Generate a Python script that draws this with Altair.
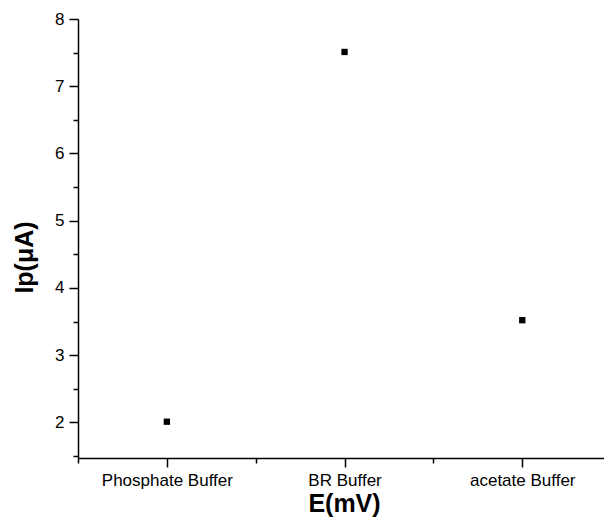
import altair as alt
import pandas as pd

buffers = ["Phosphate Buffer", "BR Buffer", "acetate Buffer"]
positions = [1, 2, 3]
ip_values = [2.01, 7.51, 3.52]

df = pd.DataFrame({"pos": positions, "buffer": buffers, "ip": ip_values})

label_map = "{" + ", ".join(f"'{p}': '{b}'" for p, b in zip(positions, buffers)) + "}"
major_minor = {"condition": {"test": "datum.value % 1 === 0", "value": 9}, "value": 5}

x_axis = alt.Axis(
    values=[0.5, 1, 1.5, 2, 2.5, 3, 3.5],
    labelExpr=f"({label_map})[datum.value] || ''",
    tickSize=major_minor,
    title="E(mV)",
    grid=False,
    domainColor="black",
    tickColor="black",
    labelColor="black",
    labelFontSize=17,
    labelPadding=5,
    labelFlush=False,
    titleFontSize=25,
    titleFontWeight="bold",
    titleColor="black",
    titleX=266,
    titleY=33,
    titleBaseline="top",
    titleAnchor="middle",
    titleAlign="center",
)

y_axis = alt.Axis(
    values=[1.5, 2, 2.5, 3, 3.5, 4, 4.5, 5, 5.5, 6, 6.5, 7, 7.5, 8],
    labelExpr="datum.value % 1 === 0 ? format(datum.value, 'd') : ''",
    tickSize=major_minor,
    title="Ip(μA)",
    grid=False,
    domainColor="black",
    tickColor="black",
    labelColor="black",
    labelFontSize=17,
    labelPadding=5,
    labelFlush=False,
    titleFontSize=25,
    titleFontWeight="bold",
    titleColor="black",
    titleX=-41,
    titleY=238,
    titleBaseline="bottom",
    titleAnchor="middle",
    titleAlign="center",
    titleAngle=270,
)

chart = (
    alt.Chart(df)
    .mark_square(size=40, color="black", opacity=1, clip=True)
    .encode(
        x=alt.X("pos:Q", scale=alt.Scale(domain=[0.5, 3.46], nice=False, zero=False), axis=x_axis),
        y=alt.Y("ip:Q", scale=alt.Scale(domain=[1.47, 8], nice=False, zero=False), axis=y_axis),
    )
    .properties(
        width=526,
        height=439,
        background="white",
        autosize=alt.AutoSizeParams(type="none"),
        padding={"left": 78, "top": 19, "right": 0, "bottom": 70},
    )
    .configure_view(strokeWidth=0)
    .configure_axis(
        labelFont="Liberation Sans",
        titleFont="Liberation Sans",
        domainWidth=1.5,
        tickWidth=1.5,
    )
)

chart.save("out.html", embed_options={"renderer": "svg", "actions": False})
